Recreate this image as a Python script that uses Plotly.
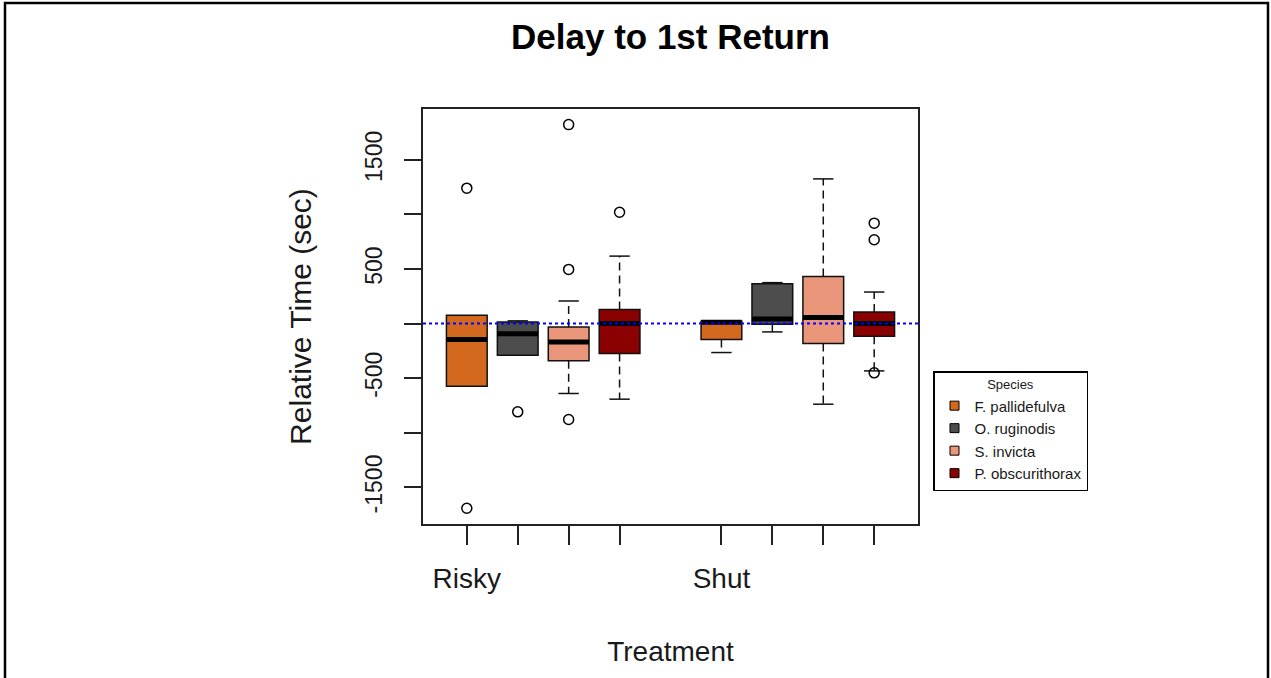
import plotly.graph_objects as go

# ---------------- data ----------------
treatments = ["Risky", "Shut"]
species = ["F. pallidefulva", "O. ruginodis", "S. invicta", "P. obscurithorax"]
colors = ["#D2691E", "#4D4D4D", "#E9967A", "#8B0000"]

# per species: [Risky, Shut]
lower_whisker = {
    "F. pallidefulva": [-573, -265],
    "O. ruginodis": [-290, -76],
    "S. invicta": [-640, -738],
    "P. obscurithorax": [-692, -433],
}
q1 = {
    "F. pallidefulva": [-573, -146],
    "O. ruginodis": [-290, -6],
    "S. invicta": [-341, -183],
    "P. obscurithorax": [-274, -116],
}
median = {
    "F. pallidefulva": [-146, 12],
    "O. ruginodis": [-92, 42],
    "S. invicta": [-168, 55],
    "P. obscurithorax": [0, 0],
}
q3 = {
    "F. pallidefulva": [76, 22],
    "O. ruginodis": [15, 365],
    "S. invicta": [-31, 432],
    "P. obscurithorax": [128, 106],
}
upper_whisker = {
    "F. pallidefulva": [76, 22],
    "O. ruginodis": [25, 375],
    "S. invicta": [207, 1325],
    "P. obscurithorax": [618, 289],
}
outliers = {
    "F. pallidefulva": [[1240, -1691], []],
    "O. ruginodis": [[-808], []],
    "S. invicta": [[1822, 496, -878], []],
    "P. obscurithorax": [[1020], [920, 768, -451]],
}
y_ticks = [-1500, -1000, -500, 0, 500, 1000, 1500]
y_tick_labels = ["-1500", "", "-500", "", "500", "", "1500"]
reference_line = 0

BOX_W = 0.8
CAP_W = 0.4

fig = go.Figure()

med_x, med_y = [], []
wh_x, wh_y = [], []
cap_x, cap_y = [], []
out_x, out_y = [], []
tick_pos = []

for ti, tr in enumerate(treatments):
    for si, sp in enumerate(species):
        p = ti * 5 + si + 1
        tick_pos.append(p)
        fig.add_trace(go.Box(
            x=[p], q1=[q1[sp][ti]], median=[median[sp][ti]], q3=[q3[sp][ti]],
            lowerfence=[q1[sp][ti]], upperfence=[q3[sp][ti]],
            width=BOX_W, whiskerwidth=0, boxpoints=False,
            fillcolor=colors[si], line=dict(color="#111111", width=1.5),
            showlegend=False, hoverinfo="skip",
        ))
        med_x += [p - BOX_W / 2, p + BOX_W / 2, None]
        med_y += [median[sp][ti]] * 2 + [None]
        if upper_whisker[sp][ti] > q3[sp][ti]:
            wh_x += [p, p, None]
            wh_y += [q3[sp][ti], upper_whisker[sp][ti], None]
            cap_x += [p - CAP_W / 2, p + CAP_W / 2, None]
            cap_y += [upper_whisker[sp][ti]] * 2 + [None]
        if lower_whisker[sp][ti] < q1[sp][ti]:
            wh_x += [p, p, None]
            wh_y += [q1[sp][ti], lower_whisker[sp][ti], None]
            cap_x += [p - CAP_W / 2, p + CAP_W / 2, None]
            cap_y += [lower_whisker[sp][ti]] * 2 + [None]
        for v in outliers[sp][ti]:
            out_x.append(p)
            out_y.append(v)

fig.add_trace(go.Scatter(x=wh_x, y=wh_y, mode="lines",
                         line=dict(color="#111111", width=1.5, dash="8px,5px"),
                         showlegend=False, hoverinfo="skip"))
fig.add_trace(go.Scatter(x=cap_x, y=cap_y, mode="lines",
                         line=dict(color="#111111", width=1.5),
                         showlegend=False, hoverinfo="skip"))
fig.add_trace(go.Scatter(x=med_x, y=med_y, mode="lines",
                         line=dict(color="black", width=5),
                         showlegend=False, hoverinfo="skip"))
fig.add_trace(go.Scatter(x=out_x, y=out_y, mode="markers",
                         marker=dict(symbol="circle-open", size=10, color="black",
                                     line=dict(width=1.5)),
                         showlegend=False, hoverinfo="skip"))

for si, sp in enumerate(species):
    fig.add_trace(go.Scatter(x=[None], y=[None], mode="markers", name=sp,
                             marker=dict(symbol="square", size=9, color=colors[si],
                                         line=dict(color="black", width=1))))

FONT = "Liberation Sans, Arial, sans-serif"
L, R, T, B = 423, 353, 109, 154
W, H = 1271, 678
pw, ph = W - L - R, H - T - B

fig.add_shape(type="line", xref="paper", x0=0, x1=1, yref="y",
              y0=reference_line, y1=reference_line,
              line=dict(color="blue", width=2, dash="3px,3px"), layer="above")
# outer frame
fig.add_shape(type="rect", xref="paper", yref="paper",
              x0=(5 - L) / pw, x1=(1268 - L) / pw,
              y0=(T + ph - 690) / ph, y1=(T + ph - 3) / ph,
              line=dict(color="black", width=2.5), layer="above")

x_ticktext = []
for ti, tr in enumerate(treatments):
    x_ticktext += [tr, "", "", ""]

fig.update_layout(
    width=W, height=H,
    margin=dict(l=L, r=R, t=T, b=B, pad=0),
    paper_bgcolor="white", plot_bgcolor="white",
    boxmode="overlay",
    font=dict(family=FONT, color="#1a1a1a"),
    title=dict(text="<b>Delay to 1st Return</b>", x=0.5, xref="paper",
               xanchor="center", y=1 - 37 / H, yref="container", yanchor="middle",
               font=dict(size=35, family=FONT, color="black")),
    xaxis=dict(range=[0.14, 9.86], tickmode="array", tickvals=tick_pos,
               ticktext=x_ticktext, ticks="outside", ticklen=19, tickwidth=1.5,
               tickcolor="#222", showline=True, linecolor="#222", linewidth=2,
               mirror=True, showgrid=False, zeroline=False,
               tickfont=dict(size=28, color="#1a1a1a"), ticklabelstandoff=9,
               title=dict(text="Treatment", font=dict(size=28), standoff=49)),
    yaxis=dict(range=[-1835, 1965], tickmode="array", tickvals=y_ticks,
               ticktext=y_tick_labels, ticks="outside", ticklen=17, tickwidth=1.5,
               tickcolor="#222", showline=True, linecolor="#222", linewidth=2,
               mirror=True, showgrid=False, zeroline=False, tickangle=-90,
               tickfont=dict(size=23, color="#1a1a1a"), ticklabelstandoff=13,
               title=dict(text="Relative Time (sec)", font=dict(size=30), standoff=40)),
    legend=dict(x=(933 - L) / pw, y=(T + ph - 371) / ph, xanchor="left", yanchor="top",
                bordercolor="black", borderwidth=1.5, bgcolor="white",
                font=dict(size=15, color="#1a1a1a"), tracegroupgap=0, itemwidth=30,
                title=dict(text="Species", side="top center", font=dict(size=13))),
)

fig.write_html("out.html")
